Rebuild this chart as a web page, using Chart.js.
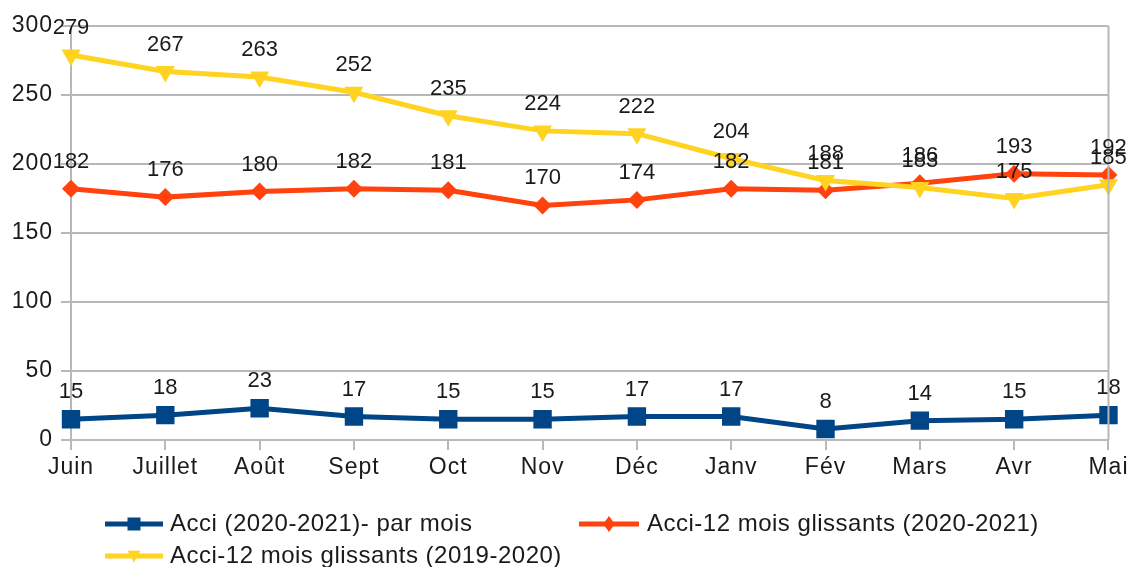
<!DOCTYPE html>
<html>
<head>
<meta charset="utf-8">
<script src="https://cdn.jsdelivr.net/npm/chart.js@4"></script>
<style>
  html, body { margin: 0; padding: 0; background: #ffffff; }
  #wrap { width: 1131px; height: 567px; }
</style>
</head>
<body>
<div id="wrap"><canvas id="c" width="1131" height="567"></canvas></div>
<script>
const categories = ['Juin', 'Juillet', 'Août', 'Sept', 'Oct', 'Nov', 'Déc', 'Janv', 'Fév', 'Mars', 'Avr', 'Mai'];
const monthly2021 = [15, 18, 23, 17, 15, 15, 17, 17, 8, 14, 15, 18];
const rolling2021 = [182, 176, 180, 182, 181, 170, 174, 182, 181, 186, 193, 192];
const rolling1920 = [279, 267, 263, 252, 235, 224, 222, 204, 188, 183, 175, 185];
const seriesLabels = ['Acci (2020-2021)- par mois', 'Acci-12 mois glissants (2020-2021)', 'Acci-12 mois glissants (2019-2020)'];
const yTicks = [0, 50, 100, 150, 200, 250, 300];

const BLUE = '#004586', ORANGE = '#ff420e', YELLOW = '#ffd320';
const GRID = '#b8b8b8';
const FONT = "'Liberation Sans', Arial, sans-serif";

const legendPlaces = [
  { x0: 105, x1: 163, tx: 170, y: 524 },
  { x0: 579, x1: 639, tx: 647, y: 524 },
  { x0: 105, x1: 163, tx: 170, y: 556 }
];

function drawMarker(ctx, style, x, y, s, color) {
  ctx.fillStyle = color;
  ctx.beginPath();
  if (style === 'rect') {
    ctx.rect(x - s / 2, y - s / 2, s, s);
  } else if (style === 'diamond') {
    ctx.moveTo(x, y - s * 0.62); ctx.lineTo(x + s * 0.45, y); ctx.lineTo(x, y + s * 0.62); ctx.lineTo(x - s * 0.45, y);
  } else {
    ctx.moveTo(x - s / 2, y - s * 0.4); ctx.lineTo(x + s / 2, y - s * 0.4); ctx.lineTo(x, y + s * 0.5);
  }
  ctx.closePath();
  ctx.fill();
}

const extras = {
  id: 'extras',
  beforeDraw(chart) {
    chart.ctx.letterSpacing = '1px';
  },
  afterDatasetsDraw(chart) {
    const ctx = chart.ctx;
    ctx.save();
    ctx.letterSpacing = '0px';
    // right border of plot area
    const a = chart.chartArea;
    ctx.strokeStyle = GRID; ctx.lineWidth = 2;
    ctx.beginPath(); ctx.moveTo(a.right, a.top); ctx.lineTo(a.right, a.bottom); ctx.stroke();
    // data labels
    ctx.font = '22px ' + FONT;
    ctx.fillStyle = '#1a1a1a';
    ctx.textAlign = 'center';
    ctx.textBaseline = 'middle';
    chart.data.datasets.forEach((ds, i) => {
      const meta = chart.getDatasetMeta(i);
      meta.data.forEach((pt, j) => {
        ctx.fillText(String(ds.data[j]), pt.x, pt.y - 27);
      });
    });
    ctx.restore();
  },
  afterDraw(chart) {
    const ctx = chart.ctx;
    ctx.save();
    ctx.letterSpacing = '0.5px';
    const styles = ['rect', 'diamond', 'tri'];
    chart.data.datasets.forEach((ds, i) => {
      const p = legendPlaces[i];
      ctx.strokeStyle = ds.borderColor; ctx.lineWidth = 5;
      ctx.beginPath(); ctx.moveTo(p.x0, p.y); ctx.lineTo(p.x1, p.y); ctx.stroke();
      drawMarker(ctx, styles[i], (p.x0 + p.x1) / 2, p.y, 13, ds.borderColor);
      ctx.font = '24px ' + FONT;
      ctx.fillStyle = '#1a1a1a';
      ctx.textAlign = 'left';
      ctx.textBaseline = 'middle';
      ctx.fillText(ds.label, p.tx, p.y);
    });
    ctx.restore();
    ctx.letterSpacing = '0px';
  }
};

new Chart(document.getElementById('c'), {
  type: 'line',
  data: {
    labels: categories,
    datasets: [
      { label: seriesLabels[0], data: monthly2021, borderColor: BLUE, backgroundColor: BLUE,
        borderWidth: 5, pointStyle: 'rect', pointRadius: 13, pointBorderWidth: 0, order: 2, tension: 0 },
      { label: seriesLabels[1], data: rolling2021, borderColor: ORANGE, backgroundColor: ORANGE,
        borderWidth: 5, pointStyle: 'rectRot', pointRadius: 9, pointBorderWidth: 0, order: 1, tension: 0 },
      { label: seriesLabels[2], data: rolling1920, borderColor: YELLOW, backgroundColor: YELLOW,
        borderWidth: 5, pointStyle: 'triangle', rotation: 180, pointRadius: 11, pointBorderWidth: 0, order: 0, tension: 0 }
    ]
  },
  options: {
    responsive: false,
    animation: false,
    events: [],
    layout: { padding: { top: 26, right: 20, bottom: 0, left: 0 } },
    plugins: { legend: { display: false }, tooltip: { enabled: false } },
    scales: {
      x: {
        type: 'category',
        offset: false,
        afterFit(s) { s.height = 127; },
        grid: { display: true, drawOnChartArea: false, drawTicks: true, tickLength: 10, color: GRID, lineWidth: 2 },
        border: { display: true, color: GRID, width: 2 },
        ticks: { color: '#1a1a1a', font: { family: FONT, size: 23 }, padding: 4, maxRotation: 0, autoSkip: false }
      },
      y: {
        min: 0, max: 300,
        afterFit(s) { s.width = 71; },
        afterBuildTicks(s) { s.ticks = yTicks.map(v => ({ value: v })); },
        grid: { color: GRID, lineWidth: 2, tickLength: 10 },
        border: { display: true, color: GRID, width: 2 },
        ticks: { color: '#1a1a1a', font: { family: FONT, size: 23 }, padding: 8 }
      }
    }
  },
  plugins: [extras]
});
</script>
</body>
</html>
